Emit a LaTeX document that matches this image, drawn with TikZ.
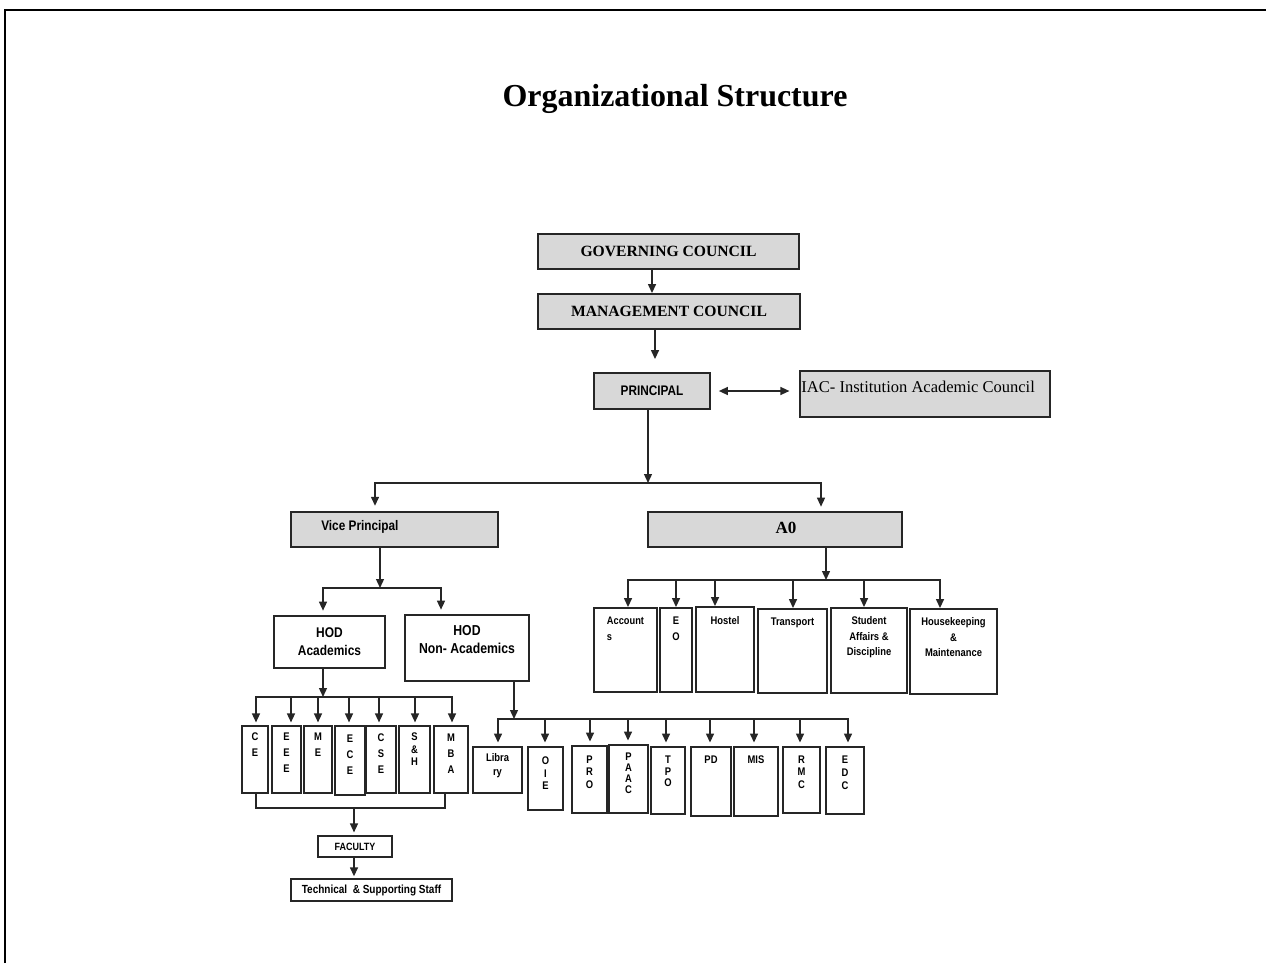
\documentclass[tikz,border=0pt]{standalone}
\usepackage{fontspec}
\setmainfont{Liberation Serif}
\newfontfamily\nar[FakeStretch=0.85]{Liberation Sans}
\usetikzlibrary{arrows.meta}
\definecolor{boxgray}{RGB}{216,216,216}
\newcommand\bxc[7]{%
 \pgfmathsetmacro\bw{(#5-#3)*0.02}%
 \pgfmathsetmacro\bh{(#6-#4)*0.02}%
 \node[#1,minimum width=\bw cm,minimum height=\bh cm] (#2) at ({(#3+#5)/2},{(#4+#6)/2}) {#7};}
\newcommand\bxt[9]{%
 \pgfmathsetmacro\bw{(#5-#3)*0.02}%
 \pgfmathsetmacro\bh{(#6-#4)*0.02}%
 \node[#1,minimum width=\bw cm,minimum height=\bh cm,
   label={[lbl,font=\nar\bfseries\fontsize{6.3}{#8}\selectfont,anchor=north,yshift=-#7*0.5669pt]north:{#9}}] (#2) at ({(#3+#5)/2},{(#4+#6)/2}) {};}
\tikzset{
  ln/.style={line width=0.85pt,black!85},
  arr/.style={ln,-{Triangle[length=5.1pt,width=4.5pt]}},
  darr/.style={ln,{Triangle[length=5.1pt,width=4.5pt]}-{Triangle[length=5.1pt,width=4.5pt]}},
  gbox/.style={draw=black!85,line width=1.05pt,fill=boxgray,inner sep=0pt},
  wbox/.style={draw=black!85,line width=1.05pt,fill=white,inner sep=0pt},
  lbl/.style={inner sep=0pt,align=center},
}
\begin{document}
\begin{tikzpicture}[x=0.02cm,y=-0.02cm]
\useasboundingbox (0,0) rectangle (1266,963);
% page frame
\draw[line width=1.1pt] (5,963) -- (5,10) -- (1266,10);
% title
\node[font=\bfseries\fontsize{18.2}{20}\selectfont] (title) at (675,99) {Organizational Structure};
% top boxes
\bxc{gbox,font=\bfseries\fontsize{8.9}{10}\selectfont}{gc}{538}{234}{799}{269}{GOVERNING COUNCIL}
\bxc{gbox,font=\bfseries\fontsize{8.9}{10}\selectfont}{mc}{538}{294}{800}{329}{MANAGEMENT COUNCIL}
\bxc{gbox,font=\nar\bfseries\fontsize{7.9}{9}\selectfont}{pr}{594}{373}{710}{409}{PRINCIPAL}
\bxc{gbox,label={[anchor=west,inner sep=0pt,xshift=2*0.5669pt,yshift=7*0.5669pt,font=\fontsize{9.4}{11}\selectfont]west:IAC- Institution Academic Council}}{iac}{800}{371}{1050}{417}{}
\bxc{gbox,label={[anchor=west,inner sep=0pt,xshift=31*0.5669pt,yshift=2.5*0.5669pt,font=\nar\bfseries\fontsize{7.9}{9}\selectfont]west:Vice Principal}}{vp}{291}{512}{498}{547}{}
\bxc{gbox,label={[inner sep=0pt,xshift=11*0.5669pt,yshift=1.5*0.5669pt,font=\bfseries\fontsize{9.7}{11}\selectfont]center:A0}}{a0}{648}{512}{902}{547}{}
% HODs
\bxc{wbox,align=center,font=\nar\bfseries\fontsize{8.0}{10.2}\selectfont}{hoda}{274}{616}{385}{668}{HOD\\Academics}
\bxc{wbox,label={[lbl,font=\nar\bfseries\fontsize{8.2}{10.2}\selectfont,anchor=north,yshift=-10.7*0.5669pt]north:{HOD\\Non- Academics}}}{hodn}{405}{615}{529}{681}{}
% departments
\bxt{wbox}{ce}{242}{726}{268}{793}{7.5}{9.1}{C\\E}
\bxt{wbox}{ee}{272}{726}{301}{793}{7.5}{9.1}{E\\E\\E}
\bxt{wbox}{me}{304}{726}{332}{793}{7.5}{9.1}{M\\E}
\bxt{wbox}{ec}{335}{726}{365}{795}{9.5}{9.1}{E\\C\\E}
\bxt{wbox}{cs}{366}{726}{396}{793}{8.5}{9.1}{C\\S\\E}
\bxt{wbox}{sh}{399}{726}{430}{793}{7.5}{7.1}{S\\\&\\H}
\bxt{wbox}{mba}{434}{726}{468}{793}{8.5}{9.1}{M\\B\\A}
\bxc{wbox,font=\nar\bfseries\fontsize{6.0}{7}\selectfont}{fac}{318}{836}{392}{857}{FACULTY}
\bxc{wbox,font=\nar\bfseries\fontsize{6.7}{8}\selectfont}{tech}{291}{879}{452}{901}{Technical\ \ \& Supporting Staff}
% non-academic units
\bxt{wbox}{lib}{473}{747}{522}{793}{7.5}{7.9}{Libra\\ry}
\bxt{wbox}{oie}{528}{747}{563}{810}{10.5}{7.1}{O\\I\\E}
\bxt{wbox}{pro}{572}{746}{607}{813}{10.5}{7.1}{P\\R\\O}
\bxt{wbox}{paac}{609}{745}{648}{813}{8.5}{6.2}{P\\A\\A\\C}
\bxt{wbox}{tpo}{651}{747}{685}{814}{9.5}{6.6}{T\\P\\O}
\bxt{wbox}{pd}{691}{747}{731}{816}{9.5}{7}{PD}
\bxt{wbox}{mis}{734}{747}{778}{816}{9.5}{7}{MIS}
\bxt{wbox}{rmc}{783}{747}{820}{813}{9.5}{7}{R\\M\\C}
\bxt{wbox}{edc}{826}{747}{864}{814}{9.5}{7.4}{E\\D\\C}
% AO units
\bxc{wbox,label={[lbl,align=left,font=\nar\bfseries\fontsize{6.2}{9.1}\selectfont,anchor=north,yshift=-9.5*0.5669pt]north:{Account\\s}}}{acc}{594}{608}{657}{692}{}
\bxt{wbox}{eo}{660}{608}{692}{692}{9.5}{9.1}{E\\O}
\bxt{wbox}{hos}{696}{607}{754}{692}{10.5}{9}{Hostel}
\bxt{wbox}{tra}{758}{609}{827}{693}{9.5}{9}{Transport}
\bxt{wbox}{stu}{831}{608}{907}{693}{9.5}{8.8}{Student\\Affairs \&\\Discipline}
\bxt{wbox}{hk}{910}{609}{997}{694}{9.5}{8.8}{Housekeeping\\\&\\Maintenance}
% bus coordinates
\coordinate (bus1) at (648,483);
\coordinate (bus2) at (380,588);
\coordinate (bus3) at (323,697);
\coordinate (bus4) at (354,808);
\coordinate (bus5) at (514,719);
\coordinate (bus6) at (826,580);
% connectors
\draw[arr] (652,0 |- gc.south) -- (652,0 |- mc.north);
\draw[arr,shorten >=7.4pt] (655,0 |- mc.south) -- (655,0 |- pr.north);
\draw[darr,shorten <=4.5pt,shorten >=5.5pt] (pr.east) -- (pr.east -| iac.west);
\draw[arr] (648,0 |- pr.south) -- (bus1);
\draw[arr,shorten >=3pt] (bus1) -| (375,0 |- vp.north);
\draw[arr,shorten >=2.5pt] (bus1) -| (821,0 |- a0.north);
\draw[arr] (380,0 |- vp.south) -- (bus2);
\draw[arr,shorten >=2.5pt] (bus2) -| (323,0 |- hoda.north);
\draw[arr,shorten >=2.5pt] (bus2) -| (441,0 |- hodn.north);
% academics
\draw[arr] (323,0 |- hoda.south) -- (bus3);
\draw[arr,shorten >=1.5pt] (bus3) -| (256,0 |- ce.north);
\draw[arr,shorten >=1.5pt] (bus3) -| (452,0 |- mba.north);
\foreach \x/\n in {291/ee,318/me,349/ec,379/cs,415/sh}
  \draw[arr,shorten >=1.5pt] (\x,0 |- bus3) -- (\x,0 |- \n.north);
\draw[ln] (256,0 |- ce.south) |- (bus4) -| (445,0 |- mba.south);
\draw[arr,shorten >=1.5pt] (bus4) -- (bus4 |- fac.north);
\draw[arr,shorten >=1pt] (354,0 |- fac.south) -- (354,0 |- tech.north);
% non-academics
\draw[arr] (514,0 |- hodn.south) -- (bus5);
\draw[arr,shorten >=2pt] (bus5) -| (498,0 |- lib.north);
\draw[arr,shorten >=2pt] (bus5) -| (848,0 |- edc.north);
\foreach \x/\n in {545/oie,590/pro,628/paac,666/tpo,710/pd,754/mis,800/rmc}
  \draw[arr,shorten >=2pt] (\x,0 |- bus5) -- (\x,0 |- \n.north);
% AO
\draw[arr] (826,0 |- a0.south) -- (bus6);
\draw[arr] (bus6) -| (628,0 |- acc.north);
\draw[arr] (bus6) -| (940,0 |- hk.north);
\foreach \x/\n in {676/eo,715/hos,793/tra,864/stu}
  \draw[arr] (\x,0 |- bus6) -- (\x,0 |- \n.north);
\end{tikzpicture}
\end{document}
